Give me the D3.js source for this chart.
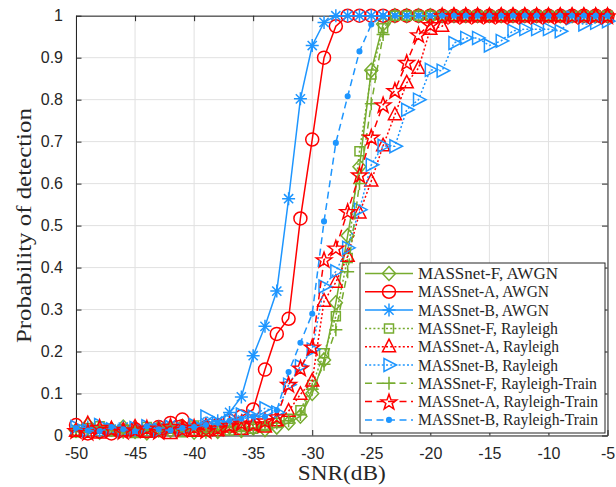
<!DOCTYPE html>
<html><head><meta charset="utf-8">
<script src="https://cdn.jsdelivr.net/npm/d3@7"></script>
<style>body{margin:0;background:#fff}svg{display:block}</style>
</head><body>
<svg id="c" width="616" height="487"></svg>
<script>
// ---- data ----
const snr = d3.range(-50, -4, 1); // -50 .. -5
const xTicks = [-50,-45,-40,-35,-30,-25,-20,-15,-10,-5];
const yTicks = [0,0.1,0.2,0.3,0.4,0.5,0.6,0.7,0.8,0.9,1];
const ones = n => Array(n).fill(1);

const fAWGN = [0.012,0.025,0.008,0.015,0.02,0.01,0.006,0.018,0.012,0.022,0.008,0.015,0.01,0.02,0.012,0.018,0.014,
  0.02,0.03,0.046,0.10,0.18,0.316,0.476,0.64,0.87,0.98].concat(ones(19));
const aAWGN = [0.025,0.005,0.01,0.005,0.012,0.015,0.01,0.02,0.03,0.038,0.015,0.02,0.025,0.035,
  0.045,0.062,0.157,0.242,0.278,0.517,0.705,0.9,0.975].concat(ones(23));
const bAWGN = [0.015,0.02,0.01,0.015,0.02,0.01,0.015,0.02,0.025,0.015,0.02,0.03,0.035,
  0.055,0.092,0.19,0.26,0.344,0.564,0.802,0.929,0.984].concat(ones(24));
const fRay = [0.008,0.018,0.022,0.01,0.014,0.006,0.02,0.012,0.016,0.008,0.024,0.01,0.018,0.012,0.02,0.016,0.022,
  0.03,0.04,0.06,0.12,0.196,0.284,0.423,0.677,0.86,0.97].concat(ones(19));
const aRay = [0.01,0.028,0.006,0.015,0.012,0.02,0.008,0.014,0.005,0.018,0.01,0.022,0.012,0.02,0.015,0.025,0.02,0.035,
  0.058,0.098,0.13,0.32,0.365,0.427,0.53,0.606,0.69,0.764,0.84,0.875,0.968,0.975].concat(ones(14));
const bRay = [0.02,0.012,0.025,0.015,0.01,0.018,0.022,0.012,0.02,0.015,0.025,0.045,0.03,0.035,0.05,0.045,0.065,0.055,
  0.121,0.165,0.205,0.355,0.391,0.447,0.538,0.645,0.69,0.689,0.776,0.8,0.871,0.869,0.935,0.947,0.947,0.929,0.94,0.964,0.968,0.968,0.968,0.963,0.995,0.979,0.983,0.987];
const fTrain = [0.015,0.01,0.02,0.012,0.008,0.018,0.014,0.01,0.022,0.012,0.016,0.008,0.014,0.02,0.01,0.018,0.025,
  0.03,0.035,0.05,0.11,0.17,0.252,0.39,0.6,0.79,0.955].concat(ones(19));
const aTrain = [0.012,0.008,0.02,0.015,0.01,0.014,0.018,0.01,0.022,0.015,0.02,0.012,0.018,0.025,0.03,0.028,0.035,
  0.045,0.122,0.161,0.211,0.419,0.447,0.534,0.621,0.711,0.788,0.822,0.889,0.955,0.979].concat(ones(15));
const bTrain = [0.018,0.012,0.01,0.02,0.015,0.01,0.022,0.015,0.012,0.018,0.02,0.025,0.03,0.035,0.04,0.045,0.045,
  0.06,0.151,0.221,0.29,0.51,0.697,0.808,0.915,0.979].concat(ones(20));

const names = ["MASSnet-F, AWGN","MASSnet-A, AWGN","MASSnet-B, AWGN",
  "MASSnet-F, Rayleigh","MASSnet-A, Rayleigh","MASSnet-B, Rayleigh",
  "MASSnet-F, Rayleigh-Train","MASSnet-A, Rayleigh-Train","MASSnet-B, Rayleigh-Train"];
const values = [fAWGN,aAWGN,bAWGN,fRay,aRay,bRay,fTrain,aTrain,bTrain];
const colors = ["#77AC30","#FF0000","#1E96FF"];
const markers = ["diamond","circle","asterisk","square","triUp","triRight","plus","pentagram","dot"];
const dashes = [null,null,null,"2,2.2","2,2.2","2,2.2","7,4.5","7,4.5","7,4.5"];

// ---- layout ----
const L=76, R=607.5, T=15.7, B=435.5;
const svg = d3.select("#c");
const x = d3.scaleLinear().domain([-50,-5]).range([L,R]);
const y = d3.scaleLinear().domain([0,1]).range([B,T]);
const axisCol = "#262626";

// grid
const g = svg.append("g");
g.selectAll(".gx").data(xTicks).join("line")
  .attr("x1",d=>x(d)).attr("x2",d=>x(d)).attr("y1",T).attr("y2",B)
  .attr("stroke","#e1e1e1").attr("stroke-width",1);
g.selectAll(".gy").data(yTicks).join("line")
  .attr("y1",d=>y(d)).attr("y2",d=>y(d)).attr("x1",L).attr("x2",R)
  .attr("stroke","#e1e1e1").attr("stroke-width",1);

// axes (MATLAB-like: inward ticks, box)
const font = "'Liberation Sans', Arial, sans-serif";
const xAx = svg.append("g").attr("transform",`translate(0,${B})`)
  .call(d3.axisBottom(x).tickValues(xTicks).tickSizeInner(-5.5).tickSizeOuter(0).tickPadding(12).tickFormat(d=>String(d)));
const xAxT = svg.append("g").attr("transform",`translate(0,${T})`)
  .call(d3.axisTop(x).tickValues(xTicks).tickSizeInner(-5.5).tickSizeOuter(0).tickFormat(""));
const yAx = svg.append("g").attr("transform",`translate(${L},0)`)
  .call(d3.axisLeft(y).tickValues(yTicks).tickSizeInner(-5.5).tickSizeOuter(0).tickPadding(13).tickFormat(d=>String(d)));
const yAxR = svg.append("g").attr("transform",`translate(${R},0)`)
  .call(d3.axisRight(y).tickValues(yTicks).tickSizeInner(-5.5).tickSizeOuter(0).tickFormat(""));
[xAx,xAxT,yAx,yAxR].forEach(a=>{
  a.select(".domain").attr("stroke",axisCol).attr("stroke-width",1);
  a.selectAll(".tick line").attr("stroke",axisCol).attr("stroke-width",1);
  a.selectAll(".tick text").attr("fill",axisCol).style("font-family",font).style("font-size","16px");
});
xAx.selectAll(".tick text").attr("dy","0.71em");

// axis labels
const serif = "'Liberation Serif', 'DejaVu Serif', serif";
svg.append("text").attr("x",(L+R)/2).attr("y",479.5).attr("text-anchor","middle")
  .style("font-family",serif).style("font-size","21px").attr("fill",axisCol)
  .attr("textLength",88).attr("lengthAdjust","spacingAndGlyphs").text("SNR(dB)");
svg.append("text").attr("transform",`translate(31,${(T+B)/2}) rotate(-90)`).attr("text-anchor","middle")
  .style("font-family",serif).style("font-size","21px").attr("fill",axisCol)
  .attr("textLength",235).attr("lengthAdjust","spacingAndGlyphs").text("Probability of detection");

// marker shapes
function markerPath(m){
  switch(m){
    case "diamond": return "M0,-7L6.5,0L0,7L-6.5,0Z";
    case "circle": return d3.symbol(d3.symbolCircle, Math.PI*6.5*6.5)();
    case "asterisk": {const r=6.5,a=4.6;return `M${-r},0H${r}M0,${-r}V${r}M${-a},${-a}L${a},${a}M${-a},${a}L${a},${-a}`;}
    case "square": return "M-4.5,-4.5H4.5V4.5H-4.5Z";
    case "triUp": return "M0,-7.5L6.5,5L-6.5,5Z";
    case "triRight": return "M7.5,0L-5,-6.5L-5,6.5Z";
    case "plus": return "M-6.5,0H6.5M0,-6.5V6.5";
    case "pentagram": {
      const pts=[];for(let i=0;i<10;i++){const r=i%2?3.3:8.2;const ang=-Math.PI/2+i*Math.PI/5;pts.push([r*Math.cos(ang),r*Math.sin(ang)+0.8]);}
      return "M"+pts.map(p=>p.join(",")).join("L")+"Z";}
    case "dot": return d3.symbol(d3.symbolCircle, Math.PI*2.3*2.3)();
  }
}

const line = d3.line().x(d=>x(d[0])).y(d=>y(d[1]));
values.forEach((vals,i)=>{
  const col = colors[i%3];
  const pts = snr.map((s,k)=>[s,vals[k]]);
  const sg = svg.append("g");
  sg.append("path").attr("d",line(pts)).attr("fill","none").attr("stroke",col)
    .attr("stroke-width",1.5).attr("stroke-dasharray",dashes[i]);
  sg.selectAll("path.m").data(pts).join("path").attr("class","m")
    .attr("transform",d=>`translate(${x(d[0])},${y(d[1])})`)
    .attr("d",markerPath(markers[i]))
    .attr("fill",markers[i]==="dot"?col:"none").attr("stroke",col).attr("stroke-width",1.5);
});

// legend
const legendWidths = [140,131,131,140,141,140,179,180,180];
const lg = svg.append("g");
const lx0=360, ly0=263, lw=245, lh=170;
lg.append("rect").attr("x",lx0).attr("y",ly0).attr("width",lw).attr("height",lh)
  .attr("fill","#fff").attr("stroke",axisCol).attr("stroke-width",1);
names.forEach((n,i)=>{
  const cy = 273.5 + i*18.3, col=colors[i%3];
  lg.append("line").attr("x1",365).attr("x2",413).attr("y1",cy).attr("y2",cy)
    .attr("stroke",col).attr("stroke-width",1.5).attr("stroke-dasharray",dashes[i]);
  lg.append("path").attr("transform",`translate(389,${cy})`).attr("d",markerPath(markers[i]))
    .attr("fill",markers[i]==="dot"?col:"none").attr("stroke",col).attr("stroke-width",1.5);
  lg.append("text").attr("x",418).attr("y",cy+5.5).style("font-family",serif).style("font-size","16.5px")
    .attr("fill",axisCol).attr("textLength",legendWidths[i]).attr("lengthAdjust","spacingAndGlyphs").text(n);
});
</script>
</body></html>
